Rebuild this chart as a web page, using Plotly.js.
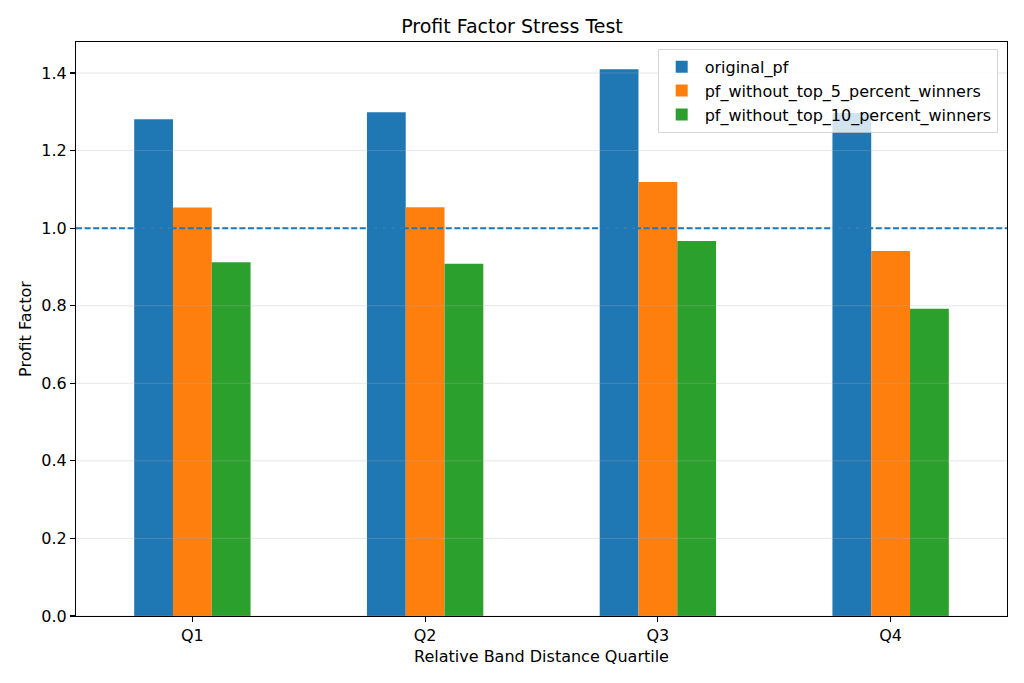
<!DOCTYPE html>
<html>
<head>
<meta charset="utf-8">
<script src="https://cdn.plot.ly/plotly-3.0.1.min.js"></script>
<style>
  html, body { margin: 0; padding: 0; background: #fff; }
  #chart { width: 1024px; height: 683px; }
</style>
</head>
<body>
<div id="chart"></div>
<script>
(() => {
  "use strict";

  // values
  const quartiles = ["Q1", "Q2", "Q3", "Q4"];
  const originalPf = [1.281, 1.299, 1.410, 1.297];
  const pfWithoutTop5 = [1.053, 1.054, 1.119, 0.941];
  const pfWithoutTop10 = [0.912, 0.908, 0.967, 0.792];
  const yTicks = [0.0, 0.2, 0.4, 0.6, 0.8, 1.0, 1.2, 1.4];
  const breakEven = 1.0;

  const FONT = "DejaVu Sans, Liberation Sans, sans-serif";

  const series = [
    { name: "original_pf", y: originalPf, color: "#1f77b4" },
    { name: "pf_without_top_5_percent_winners", y: pfWithoutTop5, color: "#ff7f0e" },
    { name: "pf_without_top_10_percent_winners", y: pfWithoutTop10, color: "#2ca02c" },
  ];

  const traces = series.map((s) => ({
    type: "bar",
    name: s.name,
    x: quartiles,
    y: s.y,
    marker: { color: s.color, line: { width: 0 } },
    hoverinfo: "x+y+name",
  }));

  // matplotlib draws the grid on top of the bars, so use shapes for it
  const gridShapes = yTicks.map((v) => ({
    type: "line",
    xref: "paper", x0: 0, x1: 1,
    yref: "y", y0: v, y1: v,
    line: { color: "rgba(176,176,176,0.3)", width: 1 },
    layer: "above",
  }));

  const shapes = gridShapes.concat([{
    type: "line",
    xref: "paper", x0: 0, x1: 1,
    yref: "y", y0: breakEven, y1: breakEven,
    line: { color: "#1f77b4", width: 2, dash: "6px,2.6px" },
    layer: "above",
  }]);

  const layout = {
    width: 1024,
    height: 683,
    margin: { l: 76, r: 17, t: 42, b: 67 },
    paper_bgcolor: "#fff",
    plot_bgcolor: "#fff",
    font: { family: FONT, size: 16, color: "#000" },
    title: {
      text: "Profit Factor Stress Test",
      font: { family: FONT, size: 19, color: "#000" },
      x: 0.5, xanchor: "center",
      y: 1 - 26 / 683, yref: "container", yanchor: "middle",
    },
    barmode: "group",
    bargap: 0.5,
    bargroupgap: 0,
    xaxis: {
      type: "category",
      range: [-0.5, 3.5],
      showgrid: false,
      zeroline: false,
      showline: true, mirror: true,
      linecolor: "#000", linewidth: 1.1,
      ticks: "outside", ticklen: 5, tickwidth: 1.1, tickcolor: "#000",
      tickfont: { family: FONT, size: 16 },
      title: { text: "Relative Band Distance Quartile", font: { family: FONT, size: 16 }, standoff: 6 },
    },
    yaxis: {
      range: [0, 1.48],
      tickvals: yTicks,
      ticktext: yTicks.map((v) => v.toFixed(1)),
      showgrid: false,
      zeroline: false,
      showline: true, mirror: true,
      linecolor: "#000", linewidth: 1.1,
      ticks: "outside", ticklen: 5, tickwidth: 1.1, tickcolor: "#000",
      tickfont: { family: FONT, size: 16 },
      title: { text: "Profit Factor", font: { family: FONT, size: 16 }, standoff: 5 },
    },
    legend: {
      x: 0.99, xanchor: "right",
      y: 0.988, yanchor: "top",
      bgcolor: "rgba(255,255,255,0.8)",
      bordercolor: "rgba(204,204,204,0.8)",
      borderwidth: 1,
      font: { family: FONT, size: 16 },
      traceorder: "normal",
      itemwidth: 36,
    },
    shapes: shapes,
    showlegend: true,
  };

  Plotly.newPlot("chart", traces, layout, { displayModeBar: false, staticPlot: true });
})();
</script>
</body>
</html>
